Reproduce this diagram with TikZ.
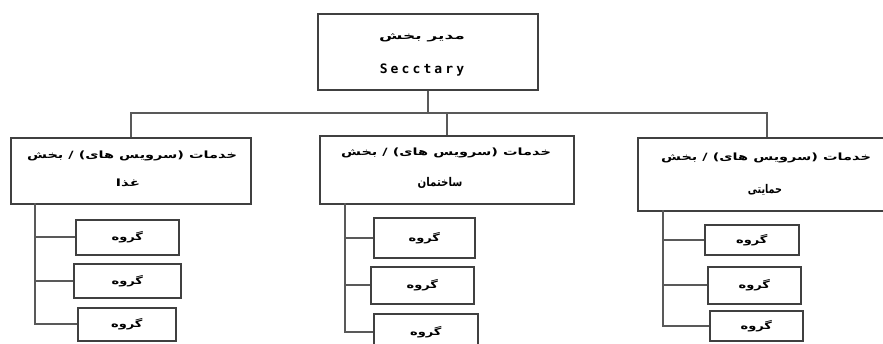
\documentclass[tikz,border=0pt]{standalone}
\usepackage{graphicx}
\usepackage{fontspec}
\TeXXeTstate=1
\setmainfont{DejaVu Sans}
\newfontfamily\arabicfont[Script=Arabic]{DejaVu Sans}
\newfontfamily\latinmono[LetterSpace=24]{DejaVu Sans Mono}
\newcommand{\fa}[2][1]{\scalebox{#1}[1]{\arabicfont\bfseries\beginR #2\endR}}
\begin{document}
\begin{tikzpicture}[x=1pt,y=-1pt,
  box/.style={draw=black!75, line width=1.6pt, fill=white, rectangle, inner sep=0pt, anchor=north west},
  conn/.style={draw=black!65, line width=2.2pt},
  txt/.style={inner sep=0pt, font=\fontsize{10}{12}\selectfont},
  bigtxt/.style={inner sep=0pt, font=\fontsize{12}{14}\selectfont},
  grp/.style={box, font=\fontsize{10}{12}\selectfont}]
\useasboundingbox (0,0) rectangle (883,343);
% top box
\node[box, minimum width=220pt, minimum height=76pt] (top) at (317,13) {};
\node[txt] (topfa) at (422,38) {\fa[1.7]{مدیر بخش}};
\node[txt, font=\fontsize{13}{14}\selectfont] (toplat) at (422,70) {\latinmono\bfseries Secctary};
% section boxes
\node[box, minimum width=240pt, minimum height=66pt] (left) at (10,137) {};
\node[box, minimum width=254pt, minimum height=68pt] (mid) at (319,135) {};
\node[box, minimum width=258pt, minimum height=73pt] (right) at (637,137) {};
\node[txt] (l1) at (132,156) {\fa[1.45]{خدمات (سرویس های) / بخش}};
\node[txt] (l2) at (128,183) {\fa[1.5]{غذا}};
\node[txt] (m1) at (446,153) {\fa[1.45]{خدمات (سرویس های) / بخش}};
\node[bigtxt] (m2) at (440,183) {\fa[0.85]{ساختمان}};
\node[txt] (r1) at (766,158) {\fa[1.45]{خدمات (سرویس های) / بخش}};
\node[bigtxt] (r2) at (765,190) {\fa[0.8]{حمایتی}};
% group boxes
\node[grp, minimum width=103pt, minimum height=35pt] (lg1) at (75,219) {\fa[1.3]{گروه}};
\node[grp, minimum width=107pt, minimum height=34pt] (lg2) at (73,263) {\fa[1.3]{گروه}};
\node[grp, minimum width=98pt, minimum height=33pt] (lg3) at (77,307) {\fa[1.3]{گروه}};
\node[grp, minimum width=101pt, minimum height=40pt] (mg1) at (373,217) {\fa[1.3]{گروه}};
\node[grp, minimum width=103pt, minimum height=37pt] (mg2) at (370,266) {\fa[1.3]{گروه}};
\node[grp, minimum width=104pt, minimum height=37pt] (mg3) at (373,313) {\fa[1.3]{گروه}};
\node[grp, minimum width=94pt, minimum height=30pt] (rg1) at (704,224) {\fa[1.3]{گروه}};
\node[grp, minimum width=93pt, minimum height=37pt] (rg2) at (707,266) {\fa[1.3]{گروه}};
\node[grp, minimum width=93pt, minimum height=30pt] (rg3) at (709,310) {\fa[1.3]{گروه}};
% bus
\coordinate (bus) at (446,113);
\draw[conn] (top.south) -- (top.south |- bus);
\draw[conn] (left.north) |- (bus) -| (right.north);
\draw[conn] (mid.north) -- (mid.north |- bus);
% trunks
\coordinate (lt) at (35,203);
\coordinate (mt) at (345,203);
\coordinate (rt) at (663,210);
\draw[conn] (lt) |- (lg3.west);
\draw[conn] (lt |- lg1.west) -- (lg1.west);
\draw[conn] (lt |- lg2.west) -- (lg2.west);
\draw[conn] (mt) |- (mg3.west);
\draw[conn] (mt |- mg1.west) -- (mg1.west);
\draw[conn] (mt |- mg2.west) -- (mg2.west);
\draw[conn] (rt) |- (rg3.west);
\draw[conn] (rt |- rg1.west) -- (rg1.west);
\draw[conn] (rt |- rg2.west) -- (rg2.west);
\end{tikzpicture}
\end{document}
